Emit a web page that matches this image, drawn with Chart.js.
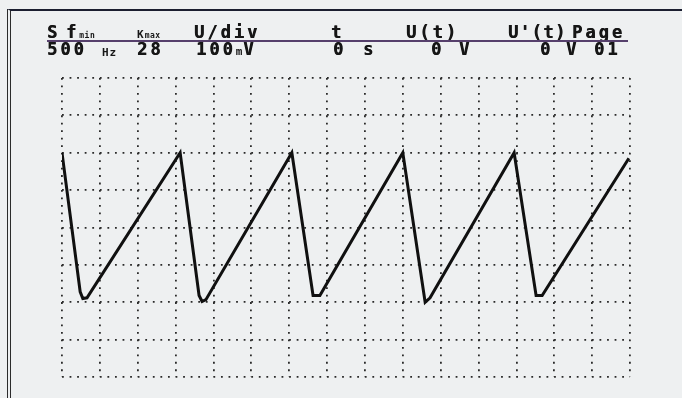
<!DOCTYPE html>
<html>
<head>
<meta charset="utf-8">
<script src="https://cdn.jsdelivr.net/npm/chart.js@4.4.1/dist/chart.umd.min.js"></script>
<style>
  html, body { margin: 0; padding: 0; background: #eef0f1; }
  #wrap { position: relative; width: 682px; height: 398px; overflow: hidden; background: #eef0f1; }
  #frame { position: absolute; left: 7px; top: 9px; width: 700px; height: 420px;
           border-top: 2px solid #1b1e30; border-left: 4px double #2b2b2b; }
  #chart { position: absolute; left: 0; top: 0; }
  .hd { position: absolute; font-family: "DejaVu Sans Mono", monospace; font-weight: bold;
        font-size: 17px; line-height: 17px; color: #161616; letter-spacing: 3px; white-space: pre;
        text-shadow: 0.5px 0 0 #161616; }
  .sm { font-size: 8px; letter-spacing: 0.5px; text-shadow: none; }
  .md { font-size: 11px; letter-spacing: 1px; text-shadow: none; }
  #uline { position: absolute; left: 47px; top: 40px; width: 581px; height: 2px; background: #56406c; }
</style>
</head>
<body>
<div id="wrap">
  <div id="frame"></div>
  <canvas id="chart" width="682" height="398"></canvas>

  <!-- header row -->
  <span class="hd" style="left:47px;top:24px">S</span>
  <span class="hd" style="left:66px;top:24px">f<span class="sm">min</span></span>
  <span class="hd" style="left:137px;top:24px"><span class="md">K</span><span class="sm">max</span></span>
  <span class="hd" style="left:194px;top:24px">U/div</span>
  <span class="hd" style="left:331px;top:24px">t</span>
  <span class="hd" style="left:406px;top:24px">U(t)</span>
  <span class="hd" style="left:508px;top:24px;letter-spacing:1.5px">U'(t)</span>
  <span class="hd" style="left:572px;top:24px">Page</span>
  <div id="uline"></div>

  <!-- values row -->
  <span class="hd" style="left:47px;top:41px">500</span>
  <span class="hd md" style="left:102px;top:44px">Hz</span>
  <span class="hd" style="left:137px;top:41px">28</span>
  <span class="hd" style="left:196px;top:41px">100<span class="md">m</span>V</span>
  <span class="hd" style="left:333px;top:41px">0</span>
  <span class="hd" style="left:363px;top:41px">s</span>
  <span class="hd" style="left:431px;top:41px">0</span>
  <span class="hd" style="left:459px;top:41px">V</span>
  <span class="hd" style="left:540px;top:41px">0</span>
  <span class="hd" style="left:566px;top:41px">V</span>
  <span class="hd" style="left:594px;top:41px">01</span>
</div>

<script>
// time in screen divisions, voltage in mV (100 mV/div)
const tDiv = [0, 0.48, 0.55, 0.66, 3.12, 3.62, 3.70, 3.80, 6.07, 6.63, 6.81, 9.00, 9.59, 9.72, 11.94, 12.52, 12.68, 14.97];
const uMv  = [200, -172, -190, -188, 200, -182, -198, -193, 200, -182, -182, 200, -200, -188, 200, -182, -182, 185];

const xMin = 0, xMax = 15, xStep = 1;
const yMin = -400, yMax = 400, yStep = 100;

const points = tDiv.map((t, i) => ({ x: t, y: uMv[i] }));

const ctx = document.getElementById('chart').getContext('2d');
new Chart(ctx, {
  type: 'line',
  data: {
    datasets: [{
      data: points,
      borderColor: '#101010',
      borderWidth: 3,
      pointRadius: 0,
      tension: 0,
      fill: false
    }]
  },
  options: {
    responsive: false,
    animation: false,
    layout: { padding: { left: 62, right: 52, top: 78, bottom: 21 } },
    plugins: { legend: { display: false }, tooltip: { enabled: false } },
    scales: {
      x: {
        type: 'linear', min: xMin, max: xMax,
        ticks: { display: false, stepSize: xStep },
        grid: { color: '#2a2a2a', lineWidth: 1.8, drawTicks: false },
        border: { display: false, dash: [1.8, 5.67] }
      },
      y: {
        type: 'linear', min: yMin, max: yMax,
        ticks: { display: false, stepSize: yStep },
        grid: { color: '#2a2a2a', lineWidth: 1.8, drawTicks: false },
        border: { display: false, dash: [1.8, 5.77] }
      }
    }
  }
});
</script>
</body>
</html>
